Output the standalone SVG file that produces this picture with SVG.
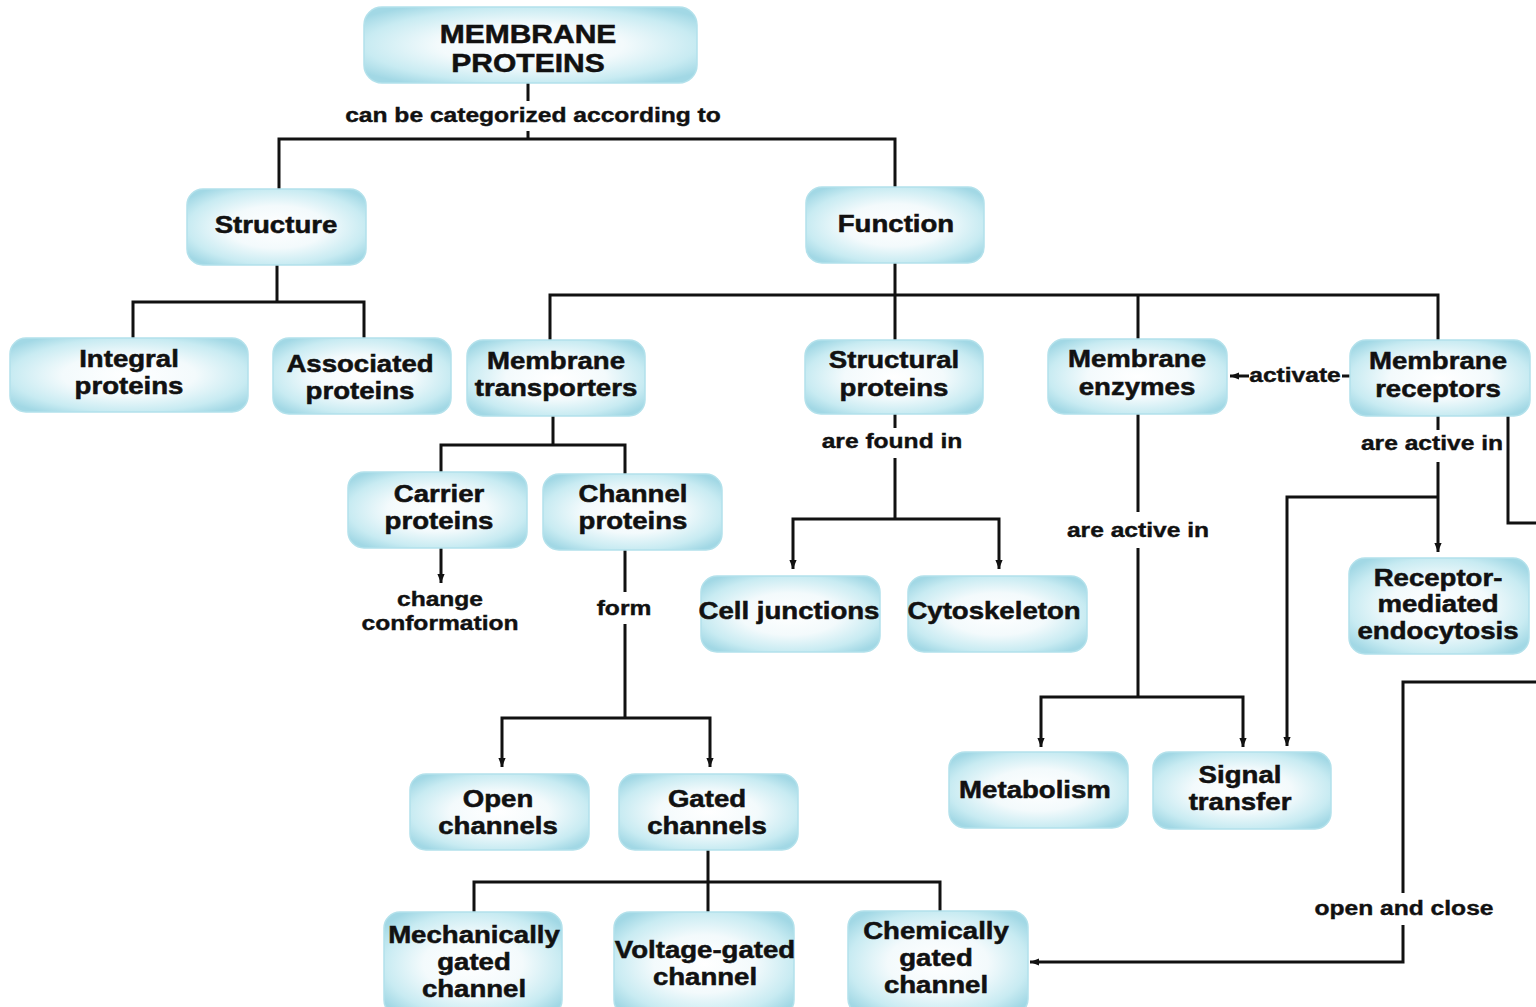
<svg xmlns="http://www.w3.org/2000/svg" width="1536" height="1007" viewBox="0 0 1536 1007">
<style>
.box{fill:url(#ng);stroke:#b3e1eb;stroke-width:1.5}
.n{font-family:"Liberation Sans",Arial,sans-serif;font-weight:bold;font-size:23px;fill:#111;stroke:#111;stroke-width:0.5;text-anchor:middle}
.ti{font-family:"Liberation Sans",Arial,sans-serif;font-weight:bold;font-size:25px;fill:#111;stroke:#111;stroke-width:0.5;text-anchor:middle}
.l{font-family:"Liberation Sans",Arial,sans-serif;font-weight:bold;font-size:20.5px;fill:#111;stroke:#111;stroke-width:0.4;text-anchor:middle}
.c{fill:none;stroke:#111;stroke-width:3}
.a{marker-end:url(#ah)}
</style>
<defs>
<radialGradient id="ng" cx="0.5" cy="0.5" r="0.62">
<stop offset="0" stop-color="#ffffff"/>
<stop offset="0.45" stop-color="#f3fafc"/>
<stop offset="0.8" stop-color="#c8ebf2"/>
<stop offset="1" stop-color="#a2d8e5"/>
</radialGradient>
<marker id="ah" viewBox="0 0 10 10" refX="10" refY="5" markerWidth="10" markerHeight="9" markerUnits="userSpaceOnUse" orient="auto">
<path d="M0,1 L10,5 L0,9 z" fill="#111"/>
</marker>
</defs>
<rect width="1536" height="1007" fill="#ffffff"/>

<g id="connectors">
<path class="c" d="M528,83 V101 M528,131 V139"/>
<path class="c" d="M279,189 V139 H895 V187"/>
<path class="c" d="M277,265 V302 M133,338 V302 H364 V338"/>
<path class="c" d="M895,263 V340 M550,340 V295 H1438 V340 M1138,295 V339"/>
<path class="c" d="M553,416 V445 M441,472 V445 H625 V474"/>
<path class="c a" d="M441,548 V583"/>
<path class="c" d="M625,550 V592 M625,624 V718"/>
<path class="c a" d="M625,718 H502 V767"/>
<path class="c a" d="M625,718 H710 V767"/>
<path class="c" d="M895,414 V428 M895,458 V519"/>
<path class="c a" d="M895,519 H793 V569"/>
<path class="c a" d="M895,519 H999 V569"/>
<path class="c" d="M1138,414 V512 M1138,548 V697"/>
<path class="c a" d="M1138,697 H1041 V747"/>
<path class="c a" d="M1138,697 H1243 V747"/>
<path class="c" d="M1350,376 H1342"/>
<path class="c a" d="M1249,376 H1230"/>
<path class="c" d="M1438,416 V430 M1438,462 V497"/>
<path class="c a" d="M1438,497 V552"/>
<path class="c a" d="M1438,497 H1287 V746"/>
<path class="c" d="M1508,416 V523 H1536"/>
<path class="c" d="M1536,682 H1403 V893"/>
<path class="c a" d="M1403,925 V962 H1030"/>
<path class="c" d="M708,850 V912 M474,912 V882 H940 V911"/>
<text class="l" transform="translate(533,122) scale(1.2,1)">can be categorized according to</text>
<text class="l" transform="translate(440,606) scale(1.2,1)"><tspan x="0">change</tspan><tspan x="0" dy="24">conformation</tspan></text>
<text class="l" transform="translate(624,615) scale(1.2,1)">form</text>
<text class="l" transform="translate(892,448) scale(1.2,1)">are found in</text>
<text class="l" transform="translate(1138,537) scale(1.2,1)">are active in</text>
<text class="l" transform="translate(1295,382) scale(1.2,1)">activate</text>
<text class="l" transform="translate(1432,450) scale(1.2,1)">are active in</text>
<text class="l" transform="translate(1404,915) scale(1.2,1)">open and close</text>
</g>

<g id="membrane-proteins"><rect class="box" x="364" y="7" width="333" height="76" rx="18"/>
<text class="ti" transform="translate(528,43) scale(1.2,1)"><tspan x="0">MEMBRANE</tspan><tspan x="0" dy="29">PROTEINS</tspan></text></g>
<g id="structure"><rect class="box" x="187" y="189" width="179" height="76" rx="16"/>
<text class="n" transform="translate(276,233) scale(1.2,1)">Structure</text></g>
<g id="function"><rect class="box" x="806" y="187" width="178" height="76" rx="16"/>
<text class="n" transform="translate(896,232) scale(1.2,1)">Function</text></g>
<g id="integral-proteins"><rect class="box" x="10" y="338" width="238" height="74" rx="16"/>
<text class="n" transform="translate(129,367) scale(1.2,1)"><tspan x="0">Integral</tspan><tspan x="0" dy="27">proteins</tspan></text></g>
<g id="associated-proteins"><rect class="box" x="273" y="338" width="178" height="76" rx="16"/>
<text class="n" transform="translate(360,372) scale(1.2,1)"><tspan x="0">Associated</tspan><tspan x="0" dy="27">proteins</tspan></text></g>
<g id="membrane-transporters"><rect class="box" x="467" y="340" width="178" height="76" rx="16"/>
<text class="n" transform="translate(556,369) scale(1.2,1)"><tspan x="0">Membrane</tspan><tspan x="0" dy="27">transporters</tspan></text></g>
<g id="structural-proteins"><rect class="box" x="805" y="340" width="178" height="74" rx="16"/>
<text class="n" transform="translate(894,368) scale(1.2,1)"><tspan x="0">Structural</tspan><tspan x="0" dy="28">proteins</tspan></text></g>
<g id="membrane-enzymes"><rect class="box" x="1048" y="339" width="179" height="75" rx="16"/>
<text class="n" transform="translate(1137,367) scale(1.2,1)"><tspan x="0">Membrane</tspan><tspan x="0" dy="28">enzymes</tspan></text></g>
<g id="membrane-receptors"><rect class="box" x="1350" y="340" width="180" height="76" rx="16"/>
<text class="n" transform="translate(1438,369) scale(1.2,1)"><tspan x="0">Membrane</tspan><tspan x="0" dy="28">receptors</tspan></text></g>
<g id="carrier-proteins"><rect class="box" x="348" y="472" width="179" height="76" rx="16"/>
<text class="n" transform="translate(439,502) scale(1.2,1)"><tspan x="0">Carrier</tspan><tspan x="0" dy="27">proteins</tspan></text></g>
<g id="channel-proteins"><rect class="box" x="543" y="474" width="179" height="76" rx="16"/>
<text class="n" transform="translate(633,502) scale(1.2,1)"><tspan x="0">Channel</tspan><tspan x="0" dy="27">proteins</tspan></text></g>
<g id="cell-junctions"><rect class="box" x="701" y="576" width="179" height="76" rx="16"/>
<text class="n" transform="translate(789,619) scale(1.2,1)">Cell junctions</text></g>
<g id="cytoskeleton"><rect class="box" x="908" y="576" width="179" height="76" rx="16"/>
<text class="n" transform="translate(994,619) scale(1.2,1)">Cytoskeleton</text></g>
<g id="receptor-mediated-endocytosis"><rect class="box" x="1349" y="558" width="180" height="96" rx="16"/>
<text class="n" transform="translate(1438,586) scale(1.2,1)"><tspan x="0">Receptor-</tspan><tspan x="0" dy="26">mediated</tspan><tspan x="0" dy="27">endocytosis</tspan></text></g>
<g id="open-channels"><rect class="box" x="410" y="774" width="179" height="76" rx="16"/>
<text class="n" transform="translate(498,807) scale(1.2,1)"><tspan x="0">Open</tspan><tspan x="0" dy="27">channels</tspan></text></g>
<g id="gated-channels"><rect class="box" x="619" y="774" width="179" height="76" rx="16"/>
<text class="n" transform="translate(707,807) scale(1.2,1)"><tspan x="0">Gated</tspan><tspan x="0" dy="27">channels</tspan></text></g>
<g id="metabolism"><rect class="box" x="949" y="752" width="179" height="76" rx="16"/>
<text class="n" transform="translate(1035,798) scale(1.2,1)">Metabolism</text></g>
<g id="signal-transfer"><rect class="box" x="1153" y="752" width="178" height="77" rx="16"/>
<text class="n" transform="translate(1240,783) scale(1.2,1)"><tspan x="0">Signal</tspan><tspan x="0" dy="27">transfer</tspan></text></g>
<g id="mechanically-gated-channel"><rect class="box" x="384" y="912" width="178" height="104" rx="16"/>
<text class="n" transform="translate(474,943) scale(1.2,1)"><tspan x="0">Mechanically</tspan><tspan x="0" dy="27">gated</tspan><tspan x="0" dy="27">channel</tspan></text></g>
<g id="voltage-gated-channel"><rect class="box" x="614" y="912" width="180" height="104" rx="16"/>
<text class="n" transform="translate(705,958) scale(1.2,1)"><tspan x="0">Voltage-gated</tspan><tspan x="0" dy="27">channel</tspan></text></g>
<g id="chemically-gated-channel"><rect class="box" x="848" y="911" width="180" height="104" rx="16"/>
<text class="n" transform="translate(936,939) scale(1.2,1)"><tspan x="0">Chemically</tspan><tspan x="0" dy="27">gated</tspan><tspan x="0" dy="27">channel</tspan></text></g>
</svg>
